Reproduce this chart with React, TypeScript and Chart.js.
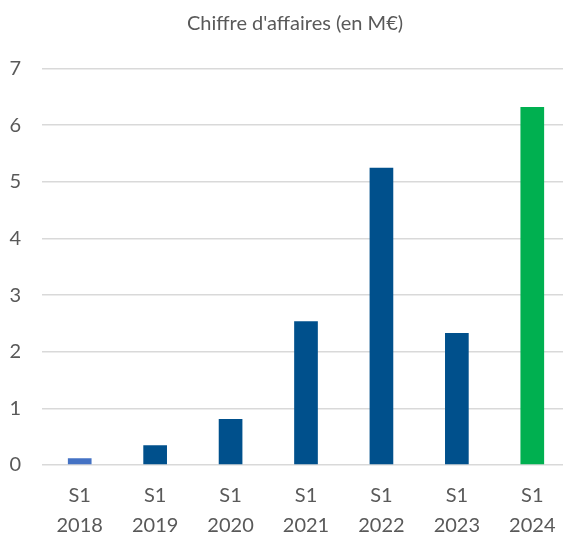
import React, { useEffect, useRef } from "react";
import { Chart, registerables } from "chart.js";

Chart.register(...registerables);

const categories: string[][] = [
  ["S1", "2018"],
  ["S1", "2019"],
  ["S1", "2020"],
  ["S1", "2021"],
  ["S1", "2022"],
  ["S1", "2023"],
  ["S1", "2024"],
];
const revenue: number[] = [0.12, 0.35, 0.81, 2.54, 5.25, 2.33, 6.32];
const barColors: string[] = ["#4472C4", "#00508C", "#00508C", "#00508C", "#00508C", "#00508C", "#00B050"];
const titleText = "Chiffre d'affaires (en M€)";
const yMax = 7;

const titleShift = {
  id: "titleShift",
  afterLayout(chart: any) {
    const t = chart.titleBlock;
    if (t) {
      t.left += 10;
      t.right += 10;
    }
  },
};

export default function App() {
  const ref = useRef<HTMLCanvasElement | null>(null);

  useEffect(() => {
    document.body.style.margin = "0";
    const canvas = ref.current;
    if (!canvas) return;
    const chart = new Chart(canvas, {
      type: "bar",
      data: {
        labels: categories,
        datasets: [
          {
            data: revenue,
            backgroundColor: barColors,
            borderWidth: 0,
            categoryPercentage: 1,
            barPercentage: 0.314,
          },
        ],
      },
      options: {
        animation: false,
        responsive: false,
        devicePixelRatio: 1,
        layout: { padding: { left: 0, right: 2, top: 0, bottom: 0 } },
        plugins: {
          legend: { display: false },
          tooltip: { enabled: false },
          title: {
            display: true,
            text: titleText,
            color: "#595959",
            font: { family: "Lato", size: 20, weight: "normal", lineHeight: 1.2 },
            padding: { top: 12, bottom: 32.5 },
          },
        },
        scales: {
          x: {
            grid: { display: false, drawTicks: false },
            border: { display: false },
            ticks: {
              color: "#595959",
              font: { family: "Lato", size: 20, lineHeight: 1.47 },
              padding: 16,
              maxRotation: 0,
              autoSkip: false,
            },
            afterFit: (s: any) => {
              s.height = 69;
            },
          },
          y: {
            min: 0,
            max: yMax,
            grid: { color: "#D9D9D9", lineWidth: 1.5, drawTicks: false },
            border: { display: false },
            ticks: {
              stepSize: 1,
              color: "#595959",
              font: { family: "Lato", size: 20 },
              padding: 21,
            },
            afterFit: (s: any) => {
              s.width = 42;
            },
          },
        },
      },
      plugins: [titleShift],
    } as any);
    return () => chart.destroy();
  }, []);

  return (
    <div style={{ width: 563, height: 534, overflow: "hidden", background: "#fff" }}>
      <canvas ref={ref} width={572} height={534} style={{ display: "block" }} />
    </div>
  );
}
